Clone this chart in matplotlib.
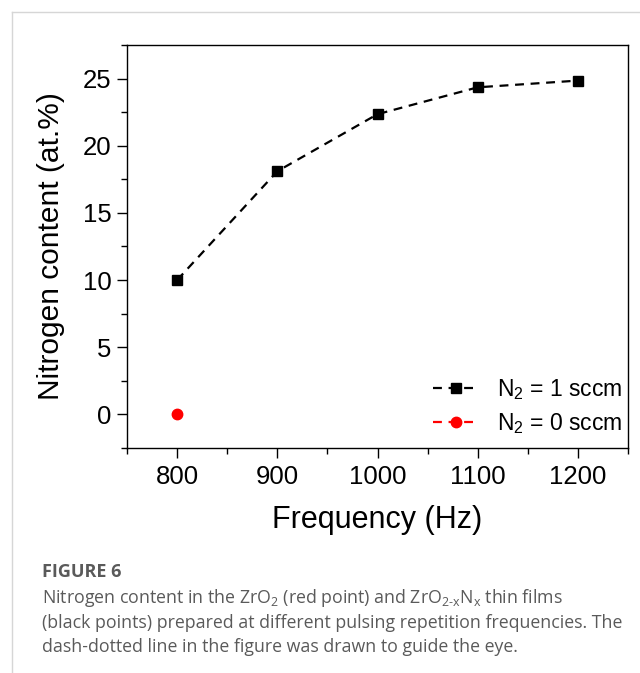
import numpy as np
import matplotlib
matplotlib.use("Agg")
import matplotlib.pyplot as plt
from matplotlib.lines import Line2D
from matplotlib.ticker import MultipleLocator

# data
freq = [800, 900, 1000, 1100, 1200]
n_content = [10.0, 18.1, 22.35, 24.35, 24.85]
freq_zero = [800]
n_content_zero = [0.0]

plt.rcParams['font.family'] = ['Liberation Sans', 'DejaVu Sans']
plt.rcParams['mathtext.fontset'] = 'custom'
plt.rcParams['mathtext.rm'] = 'Liberation Sans'

fig = plt.figure(figsize=(6.4, 6.73), dpi=100)
ax = fig.add_axes([127/640, 1-448/673, 501/640, 403/673])

ax.plot(freq, n_content, color='black', linestyle='--', dashes=(4, 3), lw=1.6,
        marker='s', markersize=6.5, label=r'N$_2$ = 1 sccm')
ax.plot(freq_zero, n_content_zero, color='red', linestyle='--', dashes=(4, 3), lw=1.6,
        marker='o', markersize=7.5, label=r'N$_2$ = 0 sccm')

ax.set_xlim(750, 1250)
ax.set_ylim(-2.5, 27.5)
ax.xaxis.set_major_locator(MultipleLocator(100))
ax.xaxis.set_minor_locator(MultipleLocator(50))
ax.yaxis.set_major_locator(MultipleLocator(5))
ax.yaxis.set_minor_locator(MultipleLocator(2.5))
ax.tick_params(which='major', direction='out', length=7, width=1, labelsize=18.5, pad=4)
ax.tick_params(axis='x', which='major', pad=5.5)
ax.tick_params(which='minor', direction='out', length=4, width=1)
for s in ax.spines.values():
    s.set_linewidth(1)

ax.set_xlabel('Frequency (Hz)', fontsize=22, labelpad=11)
ax.set_ylabel('Nitrogen content (at.%)', fontsize=21.5, labelpad=13)

ax.legend(loc='lower right', frameon=False, fontsize=16.5, handlelength=2.0,
          handletextpad=0.8, labelspacing=0.42, borderaxespad=0.2,
          bbox_to_anchor=(1 + 8/501, -2/403))

# page frame lines
fig.add_artist(Line2D([12/640, 12/640], [0, 1-12/673], transform=fig.transFigure,
                      color='#d6d6d6', lw=1))
fig.add_artist(Line2D([12/640, 1], [1-12/673, 1-12/673], transform=fig.transFigure,
                      color='#d6d6d6', lw=1))

# caption
cap_col = '#5a5a5a'
fig.text(42/640, 1-577/673, 'FIGURE 6', fontsize=13, fontweight='bold',
         color=cap_col, family='Open Sans')
lines = [r'Nitrogen content in the ZrO$\mathregular{_2}$ (red point) and '
         r'ZrO$\mathregular{_{2\text{-}x}}$N$\mathregular{_x}$ thin films',
         '(black points) prepared at different pulsing repetition frequencies. The',
         'dash-dotted line in the figure was drawn to guide the eye.']
for i, t in enumerate(lines):
    fig.text(42/640, 1-(603+24.5*i)/673, t, fontsize=12.8, color=cap_col, family='Open Sans')

fig.savefig('out.png', dpi=100)
